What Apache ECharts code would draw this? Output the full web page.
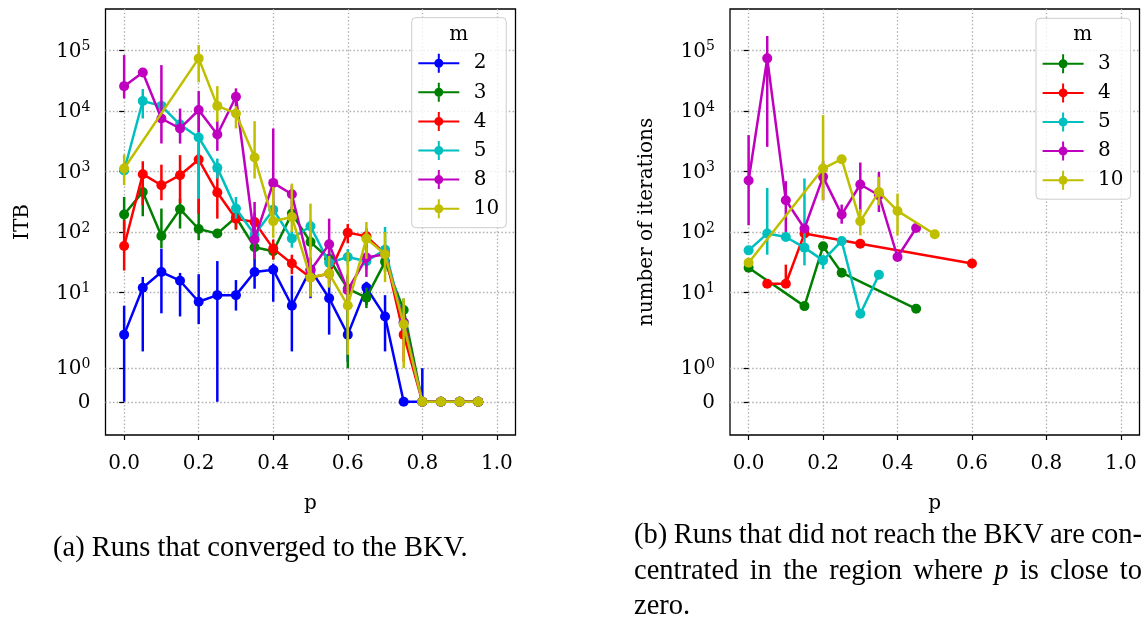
<!DOCTYPE html>
<html>
<head>
<meta charset="utf-8">
<script src="https://cdn.jsdelivr.net/npm/echarts@6/dist/echarts.min.js"></script>
<style>
  html, body { margin: 0; padding: 0; background: #ffffff; }
  #chart { width: 1146px; height: 621px; }
</style>
</head>
<body>
<div id="chart"></div>
<script>
// ---------- panel (a): ITB of runs that converged to the BKV ----------
const pConv = [0, 0.05, 0.1, 0.15, 0.2, 0.25, 0.3, 0.35, 0.4, 0.45, 0.5, 0.55, 0.6, 0.65, 0.7, 0.75, 0.8, 0.85, 0.9, 0.95];

const convM2   = [2.0, 11.9, 21.7, 15.6, 7.0, 9.0, 9.0, 21.8, 23.8, 6.0, 24, 8.0, 2.0, 12.0, 4.0, 0, 0, 0, 0, 0];
const convM2Lo = [0, 1.5, 4.5, 4.0, 3.0, 0, 5.0, 11.5, 7, 1.5, 8, 2.0, 1.2, 6.2, 1.5, 0, 0, 0, 0, 0];
const convM2Hi = [6.0, 18, 53, 21, 20, 33, 16, 36, 30, 19, 36, 17, 6.5, 15, 9.0, 0, 1.0, 0, 0, 0];

const convM3   = [194, 460, 86, 238, 112, 94, 175, 56, 48, 201, 68, 36, 11.5, 8.2, 32, 5.1, 0, 0, 0, 0];
const convM3Lo = [110, 182, 54, 114, 73, 80, 110, 35, 35, 150, 50, 25, 1.0, 5.5, 22, 2.9, 0, 0, 0, 0];
const convM3Hi = [380, 718, 244, 355, 355, 110, 260, 80, 65, 260, 90, 50, 20, 12, 45, 7.9, 0, 0, 0, 0];

const convM4   = [58.6, 904, 593, 869, 1580, 449, 165, 146, 53, 30, 17.6, 20.4, 97.5, 84.8, 43.9, 2.0, 0, 0, 0, 0];
const convM4Lo = [23, 277, 335, 300, 200, 166, 110, 100, 35, 20, 12, 14, 65, 55, 28, 1.2, 0, 0, 0, 0];
const convM4Hi = [156, 1480, 1300, 1870, 3000, 986, 230, 210, 75, 42, 24, 28, 135, 115, 62, 3.5, 0, 0, 0, 0];

const convM5   = [1040, 14700, 12200, 6000, 3660, 1150, 244, 90, 234, 78, 124, 30.8, 38.6, 32.7, 51, 3.2, 0, 0, 0, 0];
const convM5Lo = [900, 7550, 10000, 4500, 356, 766, 166, 60, 150, 55, 90, 22, 28, 24, 35, 2.3, 0, 0, 0, 0];
const convM5Hi = [1300, 23200, 14000, 7500, 8600, 1640, 380, 125, 320, 105, 160, 42, 52, 42, 121, 4.2, 0, 0, 0, 0];

const convM8   = [25900, 43700, 7550, 5160, 10400, 4100, 17300, 75, 649, 421, 23, 62.5, 10.9, 37.7, 42.8, 3.2, 0, 0, 0, 0];
const convM8Lo = [16200, 40000, 2910, 2900, 4500, 2200, 12000, 36, 200, 214, 12, 28, 4.8, 18, 30, 2.2, 0, 0, 0, 0];
const convM8Hi = [84700, 48000, 57800, 11000, 21400, 7000, 23800, 314, 5160, 593, 38, 166, 19, 62, 58, 4.5, 0, 0, 0, 0];

const convM10   = [1122, null, null, null, 74600, 12200, 9150, 1706, 150, 177, 17.6, 20.5, 6.05, 77.6, 42.8, 2.98, 0, 0, 0, 0];
const convM10Lo = [593, null, null, null, 30000, 6650, 5160, 766, 80, 100, 8.5, 12, 1.4, 36, 14.8, 1.0, 0, 0, 0, 0];
const convM10Hi = [1910, null, null, null, 124000, 25900, 12000, 6820, 557, 632, 295, 40, 47, 146, 100, 7.9, 0, 0, 0, 0];

// ---------- panel (b): iterations of runs that did not reach the BKV ----------
const pFail = [0, 0.05, 0.1, 0.15, 0.2, 0.25, 0.3, 0.35, 0.4, 0.45, 0.5, 0.55, 0.6];

const failM3   = [25.6, null, null, 5.93, 57.8, 21.2, null, null, null, 5.36, null, null, null];
const failM3Lo = [25.6, null, null, 5.93, 57.8, 21.2, null, null, null, 5.36, null, null, null];
const failM3Hi = [25.6, null, null, 5.93, 57.8, 21.2, null, null, null, 5.36, null, null, null];

const failM4   = [null, 13.9, 13.9, 94, null, null, 64, null, null, null, null, null, 30];
const failM4Lo = [null, 13.9, 13.9, 94, null, null, 64, null, null, null, null, null, 30];
const failM4Hi = [null, 13.9, 28.8, 94, null, null, 64, null, null, null, null, null, 30];

const failM5   = [49.6, 94, 82.6, 55, 33.9, 71, 4.43, 19.6, null, null, null, null, null];
const failM5Lo = [49.6, 42, 82.6, 28, 24.5, 71, 4.43, 19.6, null, null, null, null, null];
const failM5Hi = [49.6, 536, 82.6, 766, 41, 71, 4.43, 19.6, null, null, null, null, null];

const failM8   = [710, 74700, 335, 114, 817, 194, 610, 405, 38.5, 116, null, null, null];
const failM8Lo = [129, 2560, 100, 114, 335, 137, 214, 214, 38.5, 116, null, null, null];
const failM8Hi = [4000, 175000, 692, 114, 1500, 284, 1410, 986, 38.5, 116, null, null, null];

const failM10   = [31, null, null, null, 1122, 1600, 150, 460, 223, null, 91.5, null, null];
const failM10Lo = [31, null, null, null, 335, 1600, 88, 277, 88, null, 91.5, null, null];
const failM10Hi = [31, null, null, null, 8600, 1600, 238, 817, 431, null, 91.5, null, null];

// ---------- axis ticks ----------
const xTicks = [0, 0.2, 0.4, 0.6, 0.8, 1.0];
const yTickValues = [0, 1, 10, 100, 1000, 10000, 100000];
const yTickExps = [null, 0, 1, 2, 3, 4, 5];

const mLabelsConv = ['2', '3', '4', '5', '8', '10'];
const mLabelsFail = ['3', '4', '5', '8', '10'];
const mColors = { '2': '#0000ff', '3': '#008000', '4': '#ff0000', '5': '#00bfbf', '8': '#bf00bf', '10': '#bfbf00' };

// symmetric log scale (linthresh 2, linscale 1, base 10)
const LINTHRESH = 2;
const LINSCALE = 1 / (1 - 1 / 10);
function symlog(v) {
  const a = Math.abs(v), s = v < 0 ? -1 : 1;
  return a <= LINTHRESH ? s * a / LINTHRESH * LINSCALE : s * (LINSCALE + Math.log10(a / LINTHRESH));
}
const yTickPos = yTickValues.map(symlog);

const SERIF = 'DejaVu Serif';
const TICK_FONT = 20;
const LINE_W = 2.5;

const series = [];
let zOrder = 2;
function addErrorSeries(gridIndex, p, vals, lo, hi, name) {
  const color = mColors[name];
  const pts = [], bars = [];
  p.forEach((x, i) => {
    if (vals[i] == null) return;
    pts.push([x, symlog(vals[i])]);
    if (lo[i] != null && hi[i] != null && hi[i] > lo[i]) bars.push([x, symlog(lo[i]), symlog(hi[i])]);
  });
  series.push({
    type: 'custom', xAxisIndex: gridIndex, yAxisIndex: gridIndex, z: zOrder++, silent: true,
    encode: { x: 0, y: [1, 2] },
    data: bars,
    renderItem: (params, api) => {
      const a = api.coord([api.value(0), api.value(1)]);
      const b = api.coord([api.value(0), api.value(2)]);
      return { type: 'line', shape: { x1: a[0], y1: a[1], x2: b[0], y2: b[1] }, style: { stroke: color, lineWidth: LINE_W } };
    }
  });
  series.push({
    type: 'line', name: name, xAxisIndex: gridIndex, yAxisIndex: gridIndex, z: zOrder++,
    data: pts, symbol: 'circle', symbolSize: 10, showSymbol: true, silent: true,
    lineStyle: { width: LINE_W, color: color }, itemStyle: { color: color }
  });
}

addErrorSeries(0, pConv, convM2, convM2Lo, convM2Hi, '2');
addErrorSeries(0, pConv, convM3, convM3Lo, convM3Hi, '3');
addErrorSeries(0, pConv, convM4, convM4Lo, convM4Hi, '4');
addErrorSeries(0, pConv, convM5, convM5Lo, convM5Hi, '5');
addErrorSeries(0, pConv, convM8, convM8Lo, convM8Hi, '8');
addErrorSeries(0, pConv, convM10, convM10Lo, convM10Hi, '10');
addErrorSeries(1, pFail, failM3, failM3Lo, failM3Hi, '3');
addErrorSeries(1, pFail, failM4, failM4Lo, failM4Hi, '4');
addErrorSeries(1, pFail, failM5, failM5Lo, failM5Hi, '5');
addErrorSeries(1, pFail, failM8, failM8Lo, failM8Hi, '8');
addErrorSeries(1, pFail, failM10, failM10Lo, failM10Hi, '10');

const gridLine = { show: true, lineStyle: { color: '#b0b0b0', width: 1.3, type: [1.5, 2.2] } };

function makeXAxis(gridIndex) {
  return {
    type: 'value', gridIndex: gridIndex, min: -0.05, max: 1.05,
    name: 'p', nameLocation: 'middle', nameGap: 59,
    nameTextStyle: { fontFamily: SERIF, fontSize: TICK_FONT, color: '#000' },
    axisLine: { show: false, onZero: false },
    axisTick: { show: true, inside: false, length: 5, lineStyle: { color: '#000', width: 1.2 }, customValues: xTicks },
    axisLabel: { show: true, margin: 19, fontFamily: SERIF, fontSize: TICK_FONT, color: '#000',
      customValues: xTicks, formatter: v => v.toFixed(1) },
    splitLine: gridLine
  };
}

function yLabel(v) {
  let k = 0, best = Infinity;
  yTickPos.forEach((t, i) => { const d = Math.abs(t - v); if (d < best) { best = d; k = i; } });
  return yTickExps[k] == null ? '{b|0}' : '{b|10}{s|' + yTickExps[k] + '}';
}

function makeYAxis(gridIndex, title) {
  return {
    type: 'value', gridIndex: gridIndex, min: -0.55, max: 6.5,
    name: title, nameLocation: 'middle', nameGap: 73, nameRotate: 90,
    nameTextStyle: { fontFamily: SERIF, fontSize: TICK_FONT, color: '#000' },
    axisLine: { show: false },
    axisTick: { show: true, inside: false, length: 5, lineStyle: { color: '#000', width: 1.2 }, customValues: yTickPos },
    axisLabel: {
      show: true, margin: 15, customValues: yTickPos, formatter: yLabel,
      rich: {
        b: { fontFamily: SERIF, fontSize: TICK_FONT, color: '#000', lineHeight: 22, verticalAlign: 'bottom' },
        s: { fontFamily: SERIF, fontSize: 14, color: '#000', lineHeight: 8, verticalAlign: 'top' }
      }
    },
    splitLine: gridLine
  };
}

// legend handle: horizontal line, vertical error bar and a round marker
const errIcon = 'path://M0,8.5H41V10.5H0Z M19.5,0H21.5V19H19.5Z M25,9.5A4.5,4.5 0 1 1 16,9.5A4.5,4.5 0 1 1 25,9.5Z';

function makeLegend(names, left, top, rightPad) {
  return {
    show: true, data: names, orient: 'vertical', left: left, top: top,
    icon: errIcon, itemWidth: 41, itemHeight: 19, itemGap: 9.1,
    padding: [35.5, rightPad, 9, 6.6],
    backgroundColor: 'rgba(255,255,255,0.8)', borderColor: '#cccccc', borderWidth: 1, borderRadius: 4,
    selectedMode: false, z: 50,
    formatter: '{t|{name}}',
    textStyle: { rich: { t: { fontFamily: SERIF, fontSize: TICK_FONT, color: '#000', lineHeight: 19, padding: [0, 0, 0, 9.5] } } },
    itemStyle: { borderWidth: 0 }, lineStyle: { width: 0 }
  };
}

// caption (b) is justified between two margins, word by word
const CAP_FONT = 28.5;
const measureCtx = document.createElement('canvas').getContext('2d');
function wordWidth(text, italic) {
  measureCtx.font = (italic ? 'italic ' : '') + CAP_FONT + 'px "Liberation Serif"';
  return measureCtx.measureText(text).width;
}
const captionB = [
  { words: ['(b)', 'Runs', 'that', 'did', 'not', 'reach', 'the', 'BKV', 'are', 'con-'], justify: true },
  { words: ['centrated', 'in', 'the', 'region', 'where', '*p', 'is', 'close', 'to'], justify: true },
  { words: ['zero.'], justify: false }
];
const capLeft = 634, capRight = 1142, capTop = 536, capStep = 35.5;
const captionEls = [];
captionB.forEach((line, li) => {
  const items = line.words.map(w => ({ text: w.replace(/^\*/, ''), italic: w.startsWith('*') }));
  const widths = items.map(it => wordWidth(it.text, it.italic));
  const total = widths.reduce((a, b) => a + b, 0);
  const gap = line.justify ? (capRight - capLeft - total) / (items.length - 1) : wordWidth(' ', false);
  let x = capLeft;
  items.forEach((it, i) => {
    captionEls.push({
      type: 'text', x: x, y: capTop + li * capStep, z: 60,
      style: { text: it.text, fontFamily: 'Liberation Serif', fontSize: CAP_FONT, fontStyle: it.italic ? 'italic' : 'normal',
        fill: '#000', textAlign: 'left', textVerticalAlign: 'middle' }
    });
    x += widths[i] + gap;
  });
});

const option = {
  animation: false,
  backgroundColor: '#ffffff',
  grid: [
    { left: 105.5, top: 9, width: 410, height: 426, show: true, borderColor: '#000', borderWidth: 1.3, backgroundColor: 'transparent' },
    { left: 730, top: 9, width: 409.5, height: 426, show: true, borderColor: '#000', borderWidth: 1.3, backgroundColor: 'transparent' }
  ],
  xAxis: [makeXAxis(0), makeXAxis(1)],
  yAxis: [makeYAxis(0, 'ITB'), makeYAxis(1, 'number of iterations')],
  legend: [
    makeLegend(mLabelsConv, 411.7, 17.7, 7),
    makeLegend(mLabelsFail, 1036, 18.3, 7)
  ],
  graphic: [
    { type: 'text', x: 458.7, y: 34.3, z: 60, style: { text: 'm', fontFamily: SERIF, fontSize: TICK_FONT, fill: '#000', textAlign: 'center', textVerticalAlign: 'middle' } },
    { type: 'text', x: 1082.7, y: 35, z: 60, style: { text: 'm', fontFamily: SERIF, fontSize: TICK_FONT, fill: '#000', textAlign: 'center', textVerticalAlign: 'middle' } },
    { type: 'text', x: 53, y: 549, z: 60, style: { text: '(a) Runs that converged to the BKV.', fontFamily: 'Liberation Serif', fontSize: CAP_FONT,
      fill: '#000', textAlign: 'left', textVerticalAlign: 'middle' } }
  ].concat(captionEls),
  series: series
};

const chart = echarts.init(document.getElementById('chart'), null, { renderer: 'canvas' });
chart.setOption(option);
</script>
</body>
</html>
